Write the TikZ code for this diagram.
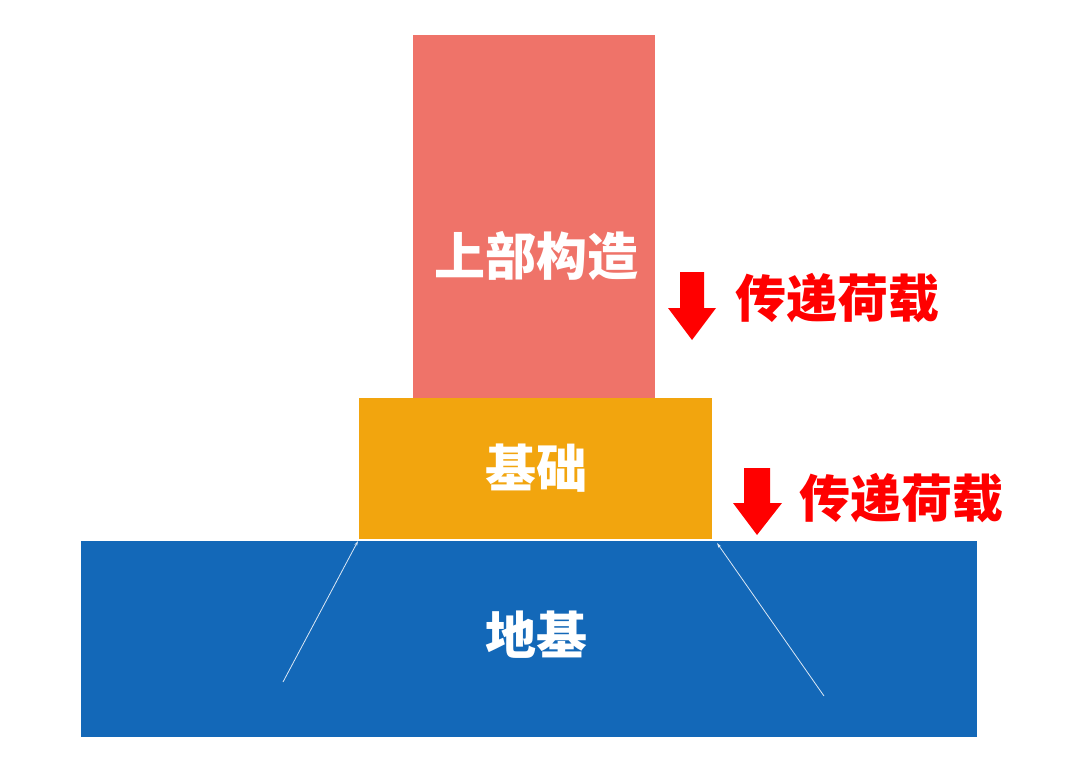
\documentclass[tikz,border=0pt]{standalone}
\usepackage{fontspec}
\newfontfamily\cjk{Noto Sans CJK SC}
\usetikzlibrary{arrows.meta}
\definecolor{supred}{HTML}{EF7369}
\definecolor{fndorange}{HTML}{F2A50E}
\definecolor{soilblue}{HTML}{1368B8}
\definecolor{loadred}{HTML}{FF0000}
\tikzset{
  block/.style={draw=none, inner sep=0pt, outer sep=0pt, anchor=north west},
  blocklabel/.style={text=white, font=\cjk\bfseries\fontsize{51}{55}\selectfont, inner sep=0pt},
  loadlabel/.style={text=loadred, font=\cjk\bfseries\fontsize{51}{55}\selectfont, inner sep=0pt},
  loadarrow/.style={fill=loadred, draw=none},
  spread/.style={draw=white!85!soilblue, line width=0.8pt, -{Stealth[length=5pt,width=3pt]}}
}
\begin{document}
\begin{tikzpicture}[x=1pt,y=-1pt]
\useasboundingbox (0,0) rectangle (1080,766);
% blocks
\node[block, fill=soilblue, minimum width=896pt, minimum height=196pt] (soil) at (81,541) {};
\node[block, fill=supred, minimum width=242pt, minimum height=363pt] (super) at (413,35) {};
\node[block, fill=fndorange, minimum width=353pt, minimum height=141pt] (fnd) at (359,398) {};
% labels
\node[blocklabel] (lsuper) at (536,256) {上部构造};
\node[blocklabel] (lfnd) at (536,468) {基础};
\node[blocklabel] (lsoil) at (536,635) {地基};
% load arrows
\fill[loadarrow] (680,272) -- (704,272) -- (704,308) -- (716,308) -- (692,340) -- (668,308) -- (680,308) -- cycle;
\fill[loadarrow] (744,468) -- (770,468) -- (770,503) -- (782,503) -- (757,535) -- (733,503) -- (744,503) -- cycle;
\node[loadlabel] (load1) at (837,298) {传递荷载};
\node[loadlabel] (load2) at (901,498) {传递荷载};
% spread lines
\coordinate (sl) at (283,682);
\coordinate (sr) at (824,696);
\coordinate (fl) at ([xshift=-1pt,yshift=-2pt]fnd.south west);
\coordinate (fr) at ([xshift=5pt,yshift=-4pt]fnd.south east);
\draw[spread] (sl) -- (fl);
\draw[spread] (sr) -- (fr);
\end{tikzpicture}
\end{document}
